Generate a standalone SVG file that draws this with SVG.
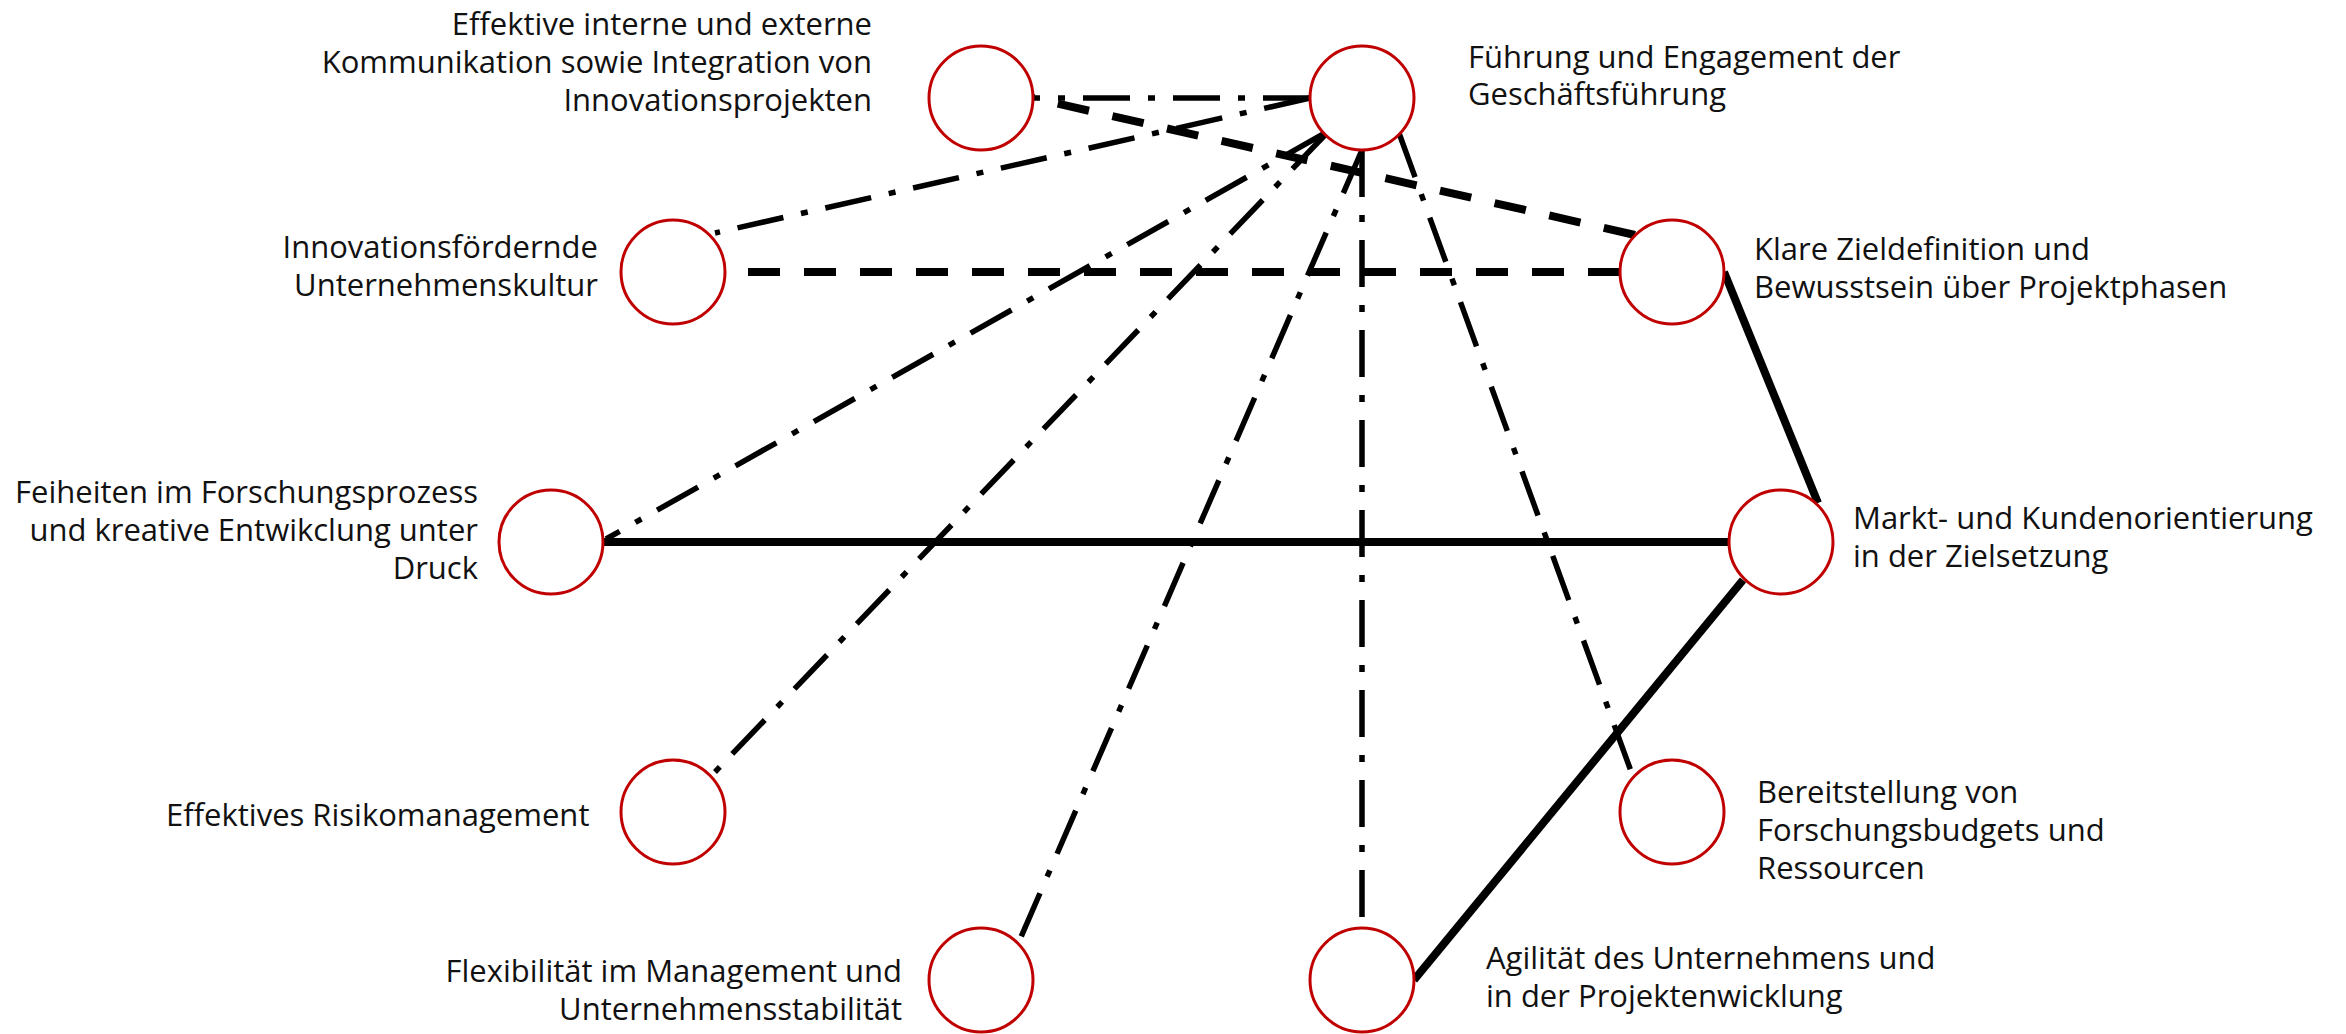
<svg xmlns="http://www.w3.org/2000/svg" width="2346" height="1034" viewBox="0 0 2346 1034">
<style>
.n{fill:#fff;stroke:#c00000;stroke-width:3}
.t{font-family:"Open Sans","Noto Sans","Liberation Sans",sans-serif;font-size:31px;fill:#111}
.e{text-anchor:end}
.c{fill:none;stroke:#000}
.dd{stroke-width:5.5;stroke-dasharray:47 18 7 18}
.da{stroke-width:8;stroke-dasharray:32 24}
.so{stroke-width:8}
</style>
<rect width="2346" height="1034" fill="#fff"/>
<g id="connectors" class="c">
<path class="dd" d="M1310,98 L1033,98"/>
<path class="dd" d="M1310,98 L715,233"/>
<path class="dd" d="M1325,133 L606,539"/>
<path class="dd" d="M1325,135 L715,772"/>
<path class="dd" d="M1362,150 L1021,937"/>
<path class="dd" d="M1362,150 L1362,928"/>
<path class="dd" d="M1399,133 L1632,774"/>
<path class="da" d="M1635,235 L1033,98"/>
<path class="da" d="M1620,272 L725,272"/>
<path class="so" d="M1724,272 L1818,503"/>
<path class="so" d="M603,542 L1729,542"/>
<path class="so" d="M1743,580 L1414,980"/>
</g>
<g id="kommunikation"><circle class="n" cx="981" cy="98" r="52"/>
<text class="t e" x="872" y="35">Effektive interne und externe</text>
<text class="t e" x="872" y="73">Kommunikation sowie Integration von</text>
<text class="t e" x="872" y="111">Innovationsprojekten</text></g>
<g id="fuehrung"><circle class="n" cx="1362" cy="98" r="52"/>
<text class="t" x="1468" y="68">Führung und Engagement der</text>
<text class="t" x="1468" y="105">Geschäftsführung</text></g>
<g id="innovationskultur"><circle class="n" cx="673" cy="272" r="52"/>
<text class="t e" x="598" y="258">Innovationsfördernde</text>
<text class="t e" x="598" y="296">Unternehmenskultur</text></g>
<g id="zieldefinition"><circle class="n" cx="1672" cy="272" r="52"/>
<text class="t" x="1754" y="260">Klare Zieldefinition und</text>
<text class="t" x="1754" y="298">Bewusstsein über Projektphasen</text></g>
<g id="freiheiten"><circle class="n" cx="551" cy="542" r="52"/>
<text class="t e" x="478" y="503">Feiheiten im Forschungsprozess</text>
<text class="t e" x="478" y="541">und kreative Entwikclung unter</text>
<text class="t e" x="478" y="579">Druck</text></g>
<g id="markt"><circle class="n" cx="1781" cy="542" r="52"/>
<text class="t" x="1853" y="529">Markt- und Kundenorientierung</text>
<text class="t" x="1853" y="567">in der Zielsetzung</text></g>
<g id="risiko"><circle class="n" cx="673" cy="812" r="52"/>
<text class="t" x="166" y="826">Effektives Risikomanagement</text></g>
<g id="budgets"><circle class="n" cx="1672" cy="812" r="52"/>
<text class="t" x="1757" y="803">Bereitstellung von</text>
<text class="t" x="1757" y="841">Forschungsbudgets und</text>
<text class="t" x="1757" y="879">Ressourcen</text></g>
<g id="flexibilitaet"><circle class="n" cx="981" cy="980" r="52"/>
<text class="t e" x="902" y="982">Flexibilität im Management und</text>
<text class="t e" x="902" y="1020">Unternehmensstabilität</text></g>
<g id="agilitaet"><circle class="n" cx="1362" cy="980" r="52"/>
<text class="t" x="1486" y="969">Agilität des Unternehmens und</text>
<text class="t" x="1486" y="1007">in der Projektenwicklung</text></g>
</svg>
